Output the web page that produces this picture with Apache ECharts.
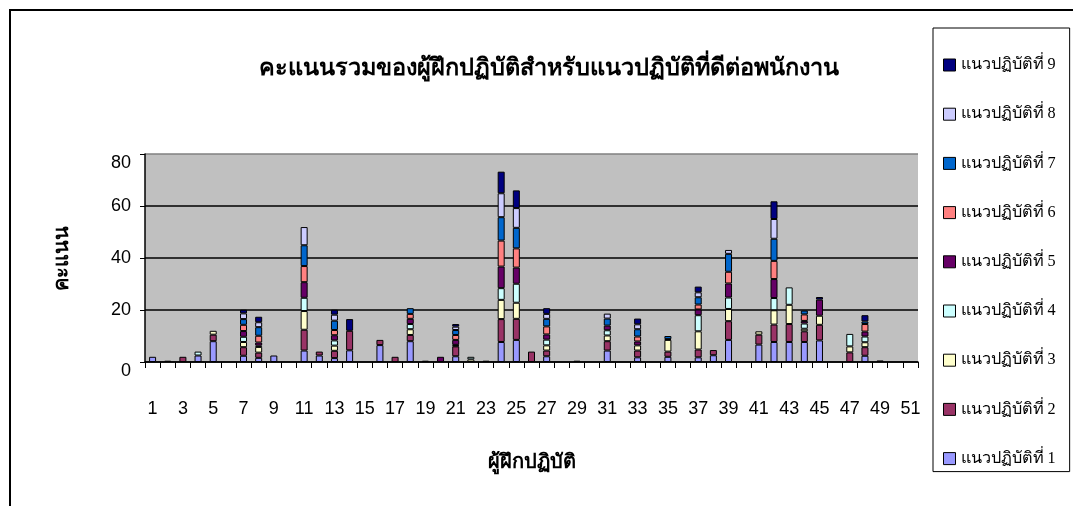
<!DOCTYPE html>
<html>
<head>
<meta charset="utf-8">
<script src="https://cdn.jsdelivr.net/npm/echarts@6/dist/echarts.min.js"></script>
<style>
html,body{margin:0;padding:0;background:#fff;}
#c{width:1073px;height:506px;}
</style>
</head>
<body>
<div id="c"></div>
<script>
// ---- data ----
const categories = Array.from({length: 51}, (_, i) => String(i + 1));
const seriesNames = ['แนวปฏิบัติที่ 1','แนวปฏิบัติที่ 2','แนวปฏิบัติที่ 3','แนวปฏิบัติที่ 4','แนวปฏิบัติที่ 5','แนวปฏิบัติที่ 6','แนวปฏิบัติที่ 7','แนวปฏิบัติที่ 8','แนวปฏิบัติที่ 9'];
//                1    2    3    4    5    6    7    8    9    10   11   12   13   14   15   16   17   18   19   20   21   22   23   24   25   26   27   28   29   30   31   32   33   34   35   36   37   38   39   40   41   42   43   44   45   46   47   48   49   50   51
const practice1 = [2,   0,   0,   2.5, 8,   0,   2.4, 1.6, 2.5, 0,   4.4, 2.5, 1.5, 4.5, 0,   6.5, 0,   8,   0,   0,   2.2, 0,   0,   7.7, 8.5, 0,   2.2, 0,   0,   0,   4.4, 0,   1.8, 0,   2,   0,   1.8, 2.6, 8.5, 0,   6.7, 7.7, 7.7, 7.7, 8.3, 0,   0,   2.4, 0,   0,   0];
const practice2 = [0,   0,   2,   0,   2.5, 0,   3.3, 2,   0,   0,   8,   1.5, 2.8, 7.5, 0,   2,   2,   2.4, 0,   0,   3.8, 0,   0,   8.8, 8.1, 4,   2.2, 0,   0,   0,   3.6, 0,   2.6, 0,   2,   0,   3,   2,   7.2, 0,   3.8, 6.7, 6.9, 4.1, 6,   0,   3.7, 3.3, 0,   0,   0];
const practice3 = [0,   0,   0,   0,   1.5, 0,   2,   2.2, 0,   0,   7.2, 0,   2,   0,   0,   0,   0,   2.2, 0,   0,   0.3, 1,   0,   7.4, 6.2, 0,   2,   0,   0,   0,   2.2, 0,   2,   0,   4.5, 0,   7,   0,   4.7, 0,   1.3, 5.5, 7.4, 1,   3.5, 0,   2.3, 1.9, 0,   0,   0];
const practice4 = [0,   0,   0,   1.5, 0,   0,   2,   0.5, 0,   0,   5.1, 0,   2,   0,   0,   0,   0,   2,   0,   0,   0.3, 1,   0,   4.5, 7.3, 0,   2.2, 0,   0,   0,   2,   0,   0,   0,   0,   0,   6.2, 0,   4.4, 0,   0,   4.7, 6.7, 2,   0,   0,   4.8, 2.2, 0,   0,   0];
const practice5 = [0,   0.5, 0,   0,   0,   0,   2.2, 1.2, 0,   0,   6,   0,   2,   0,   0,   0,   0,   2,   0.5, 2,   1.9, 0,   0.5, 8.3, 6.2, 0,   2,   0,   0.5, 0,   1.8, 0,   1.5, 0,   0.3, 0,   2.2, 0,   5.4, 0,   0,   7.3, 0,   1,   6.2, 0,   0,   1.9, 0.6, 0,   0];
const practice6 = [0,   0,   0,   0,   0,   0,   2.4, 2.6, 0,   0,   6.2, 0,   2,   0,   0,   0,   0,   1.9, 0,   0,   1.9, 0,   0,   10,  7.4, 0,   3.1, 0,   0,   0,   0,   0,   1.9, 0,   0,   0,   1.9, 0,   4.5, 0,   0,   7,   0,   2.5, 0,   0,   0,   2.9, 0,   0,   0];
const practice7 = [0,   0,   0,   0,   0,   0,   2.2, 3.3, 0,   0,   8,   0,   3.6, 0,   0,   0,   0,   2.2, 0,   0,   1.9, 0,   0,   9,   7.9, 0,   2.9, 0,   0,   0,   2.7, 0,   2.8, 0,   1.2, 0,   2.8, 0,   6.9, 0,   0,   8.5, 0,   1.5, 0,   0,   0,   1,   0,   0,   0];
const practice8 = [0,   0,   0,   0,   0,   0,   2.2, 1.9, 0,   0,   7,   0,   2.3, 0,   0,   0,   0,   0,   0,   0,   1.3, 0,   0,   9.2, 7.6, 0,   1.9, 0,   0,   0,   1.9, 0,   1.9, 0,   0,   0,   1.9, 0,   1.5, 0,   0,   7.6, 0,   0,   0,   0,   0,   0,   0,   0,   0];
const practice9 = [0,   0,   0,   0,   0,   0,   1.4, 2.1, 0,   0,   0,   0,   1.9, 4.5, 0,   0,   0,   0,   0,   0,   1,   0,   0,   8.3, 6.8, 0,   2.2, 0,   0,   0,   0,   0,   2.2, 0,   0,   0,   2.2, 0,   0,   0,   0,   6.8, 0,   0,   1,   0,   0,   2.4, 0,   0,   0];
const yTicks = [0, 20, 40, 60, 80];
const titleText = 'คะแนนรวมของผู้ฝึกปฏิบัติสำหรับแนวปฏิบัติที่ดีต่อพนักงาน';
const yName = 'คะแนน';
const xName = 'ผู้ฝึกปฏิบัติ';

const allData = [practice1, practice2, practice3, practice4, practice5, practice6, practice7, practice8, practice9];
const colors = ['#9999FF','#993366','#FFFFCC','#CCFFFF','#660066','#FF8080','#0066CC','#CCCCFF','#000080'];

const serif = "'Liberation Serif','DejaVu Serif',serif";
const sans = "'Liberation Sans Narrow','Liberation Sans',Arial,sans-serif";

const chart = echarts.init(document.getElementById('c'), null, {renderer: 'canvas'});
chart.setOption({
  animation: false,
  backgroundColor: '#fff',
  title: {
    text: titleText,
    left: 544, top: 52, textAlign: 'center',
    textStyle: {fontFamily: serif, fontSize: 23.5, fontWeight: 'bold', color: '#000'}
  },
  graphic: [{
    type: 'rect', shape: {x: 10, y: 10, width: 1100, height: 600},
    style: {fill: 'none', stroke: '#000', lineWidth: 2}, silent: true, z: 100
  }],
  legend: {
    orient: 'vertical',
    left: 933, top: 28,
    padding: [29, 14, 5, 10],
    borderColor: '#000', borderWidth: 1,
    itemWidth: 12, itemHeight: 12, itemGap: 33.2,
    icon: 'rect',
    selectedMode: false,
    data: seriesNames.slice().reverse(),
    textStyle: {fontFamily: serif, fontSize: 16.2, color: '#000'},
    itemStyle: {borderColor: '#000', borderWidth: 1}
  },
  grid: {
    left: 145, right: 155, top: 154, bottom: 144,
    show: true, backgroundColor: '#C0C0C0', borderWidth: 0
  },
  xAxis: {
    type: 'category',
    data: categories,
    boundaryGap: true,
    name: xName, nameLocation: 'middle', nameGap: 91,
    nameTextStyle: {fontFamily: serif, fontSize: 20, fontWeight: 'bold', color: '#000'},
    axisLine: {show: true, lineStyle: {color: '#000', width: 1.5}},
    axisTick: {show: true, interval: 0, length: 6, lineStyle: {color: '#000'}},
    axisLabel: {interval: 1, margin: 38, fontFamily: sans, fontSize: 18, color: '#000'},
    splitLine: {show: false}
  },
  yAxis: {
    type: 'value',
    min: yTicks[0], max: yTicks[yTicks.length - 1], interval: 20,
    name: yName, nameLocation: 'middle', nameGap: 72, nameRotate: 90,
    nameTextStyle: {fontFamily: serif, fontSize: 20, fontWeight: 'bold', color: '#000'},
    axisLine: {show: true, lineStyle: {color: '#000', width: 1.5}},
    axisTick: {show: true, length: 5, lineStyle: {color: '#000'}},
    axisLabel: {
      margin: 14, fontFamily: sans, fontSize: 18, color: '#000',
      formatter: v => (v === yTicks[0] || v === yTicks[yTicks.length - 1]) ? '{s|' + v + '}' : String(v),
      rich: {s: {fontFamily: sans, fontSize: 18, color: '#000', padding: [18, 0, 0, 0]}}
    },
    splitLine: {show: true, lineStyle: {color: ['#000','#000','#000','#000','#808080'], width: 1.5}}
  },
  series: allData.map((arr, i) => ({
    name: seriesNames[i],
    type: 'bar',
    stack: 'total',
    barWidth: 7,
    data: arr.map(v => (v === 0 ? null : v)),
    itemStyle: {color: colors[i], borderColor: '#000', borderWidth: 1}
  }))
});
</script>
</body>
</html>
